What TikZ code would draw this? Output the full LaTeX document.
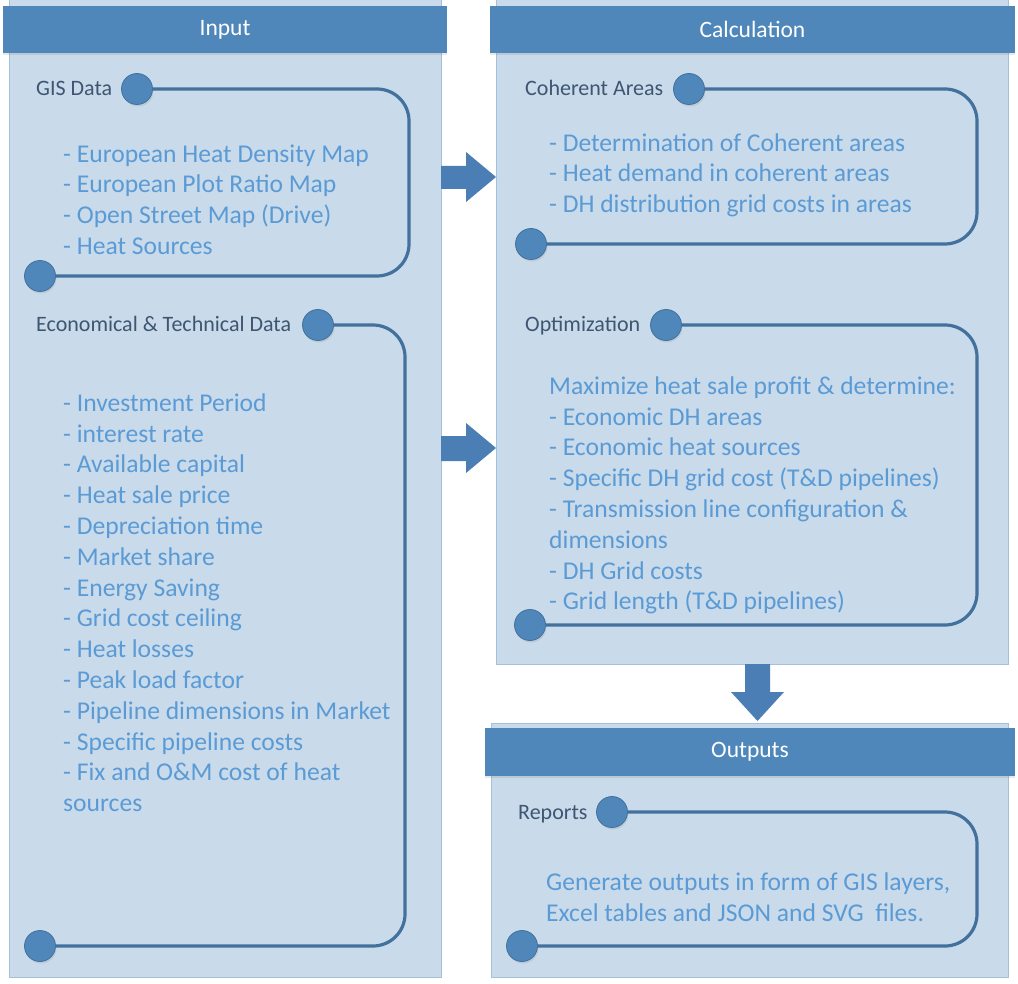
\documentclass[tikz,border=0pt]{standalone}
\usepackage{fontspec}
\setmainfont{Carlito}
\usetikzlibrary{shadows}
\definecolor{hdr}{HTML}{4F87BA}
\definecolor{pbg}{HTML}{C9DAEA}
\definecolor{pborder}{HTML}{A6C0DA}
\definecolor{lnc}{HTML}{41719C}
\definecolor{itm}{HTML}{5B9BD5}
\definecolor{lbl}{HTML}{3E5672}
\definecolor{arrc}{HTML}{4A7EB4}
\begin{document}
\begin{tikzpicture}[x=1pt,y=-1pt,
  panel/.style={fill=pbg, draw=pborder, line width=1, anchor=north west, inner sep=0, outer sep=0},
  hdrbox/.style={fill=hdr, anchor=north west, inner sep=0, outer sep=0,
     drop shadow={shadow xshift=0pt, shadow yshift=-2pt, opacity=0.18}},
  hdrtxt/.style={text=white, font=\fontsize{23.5}{28}\selectfont},
  dot/.style={circle, fill=hdr, draw=lnc, line width=0.8, minimum size=31, inner sep=0, outer sep=0,
     drop shadow={shadow xshift=1pt, shadow yshift=-2pt, opacity=0.18}},
  lbltxt/.style={anchor=base west, inner sep=0, text=lbl, font=\fontsize{22}{26}\selectfont},
  itemtxt/.style={anchor=base west, inner sep=0, text=itm, align=left, font=\fontsize{25.6}{30.8}\selectfont},
  conn/.style={draw=lnc, line width=3.2, rounded corners=32},
  blockarrow/.style={fill=arrc}
]
\useasboundingbox (0,0) rectangle (1018,984);

% panels
\node[panel, minimum width=432, minimum height=977] (pin) at (9,0) {};
\node[panel, minimum width=512, minimum height=664] (pcalc) at (496,0) {};
\node[panel, minimum width=517, minimum height=254] (pout) at (491,723) {};

% headers
\node[hdrbox, minimum width=444, minimum height=47] (hin) at (3,6) {};
\node[hdrtxt] (tin) at (hin.center) {Input};
\node[hdrbox, minimum width=525, minimum height=47] (hcalc) at (490,6) {};
\node[hdrtxt] (tcalc) at (hcalc.center) {Calculation};
\node[hdrbox, minimum width=530, minimum height=48] (hout) at (485,728) {};
\node[hdrtxt] (tout) at (hout.center) {Outputs};

% block arrows
\fill[blockarrow] (441,166) -- (466,166) -- (466,152) -- (496,177) -- (466,202) -- (466,189) -- (441,189) -- cycle;
\fill[blockarrow] (441,436) -- (466,436) -- (466,423) -- (496,448) -- (466,473) -- (466,461) -- (441,461) -- cycle;
\fill[blockarrow] (745,664) -- (770,664) -- (770,692) -- (784,692) -- (757.5,721) -- (731,692) -- (745,692) -- cycle;

% GIS Data
\node[lbltxt] (lgis) at (36,96) {GIS Data};
\node[dot] (g1) at (137,89) {};
\node[dot] (g2) at (40,276) {};
\draw[conn] (g1.east) -- (409,89) -- (409,276) -- (g2.east);
\node[itemtxt] (igis) at (63,254.6) {- European Heat Density Map\\- European Plot Ratio Map\\- Open Street Map (Drive)\\- Heat Sources};

% Economical & Technical Data
\node[lbltxt] (lecon) at (36,332) {Economical \& Technical Data};
\node[dot] (e1) at (318,325) {};
\node[dot] (e2) at (40,946) {};
\draw[conn] (e1.east) -- (405,325) -- (405,946) -- (e2.east);
\node[itemtxt] (iecon) at (63,811.6) {- Investment Period\\- interest rate\\- Available capital\\- Heat sale price\\- Depreciation time\\- Market share\\- Energy Saving\\- Grid cost ceiling\\- Heat losses\\- Peak load factor\\- Pipeline dimensions in Market\\- Specific pipeline costs\\- Fix and O\&M cost of heat\\sources};

% Coherent Areas
\node[lbltxt] (lcoh) at (525,96) {Coherent Areas};
\node[dot] (c1) at (689,89) {};
\node[dot] (c2) at (531,244) {};
\draw[conn] (c1.east) -- (977,89) -- (977,244) -- (c2.east);
\node[itemtxt] (icoh) at (549,212.8) {- Determination of Coherent areas\\- Heat demand in coherent areas\\- DH distribution grid costs in areas};

% Optimization
\node[lbltxt] (lopt) at (525,332) {Optimization};
\node[dot] (o1) at (666,325) {};
\node[dot] (o2) at (530,625) {};
\draw[conn] (o1.east) -- (977,325) -- (977,625) -- (o2.east);
\node[itemtxt] (iopt) at (549,609.8) {Maximize heat sale profit \& determine:\\- Economic DH areas\\- Economic heat sources\\- Specific DH grid cost (T\&D pipelines)\\- Transmission line configuration \&\\dimensions\\- DH Grid costs\\- Grid length (T\&D pipelines)};

% Reports
\node[lbltxt] (lrep) at (518,819) {Reports};
\node[dot] (r1) at (612,812) {};
\node[dot] (r2) at (522,946) {};
\draw[conn] (r1.east) -- (977,812) -- (977,946) -- (r2.east);
\node[itemtxt] (irep) at (546,921) {Generate outputs in form of GIS layers,\\Excel tables and JSON and SVG\ \ files.};
\end{tikzpicture}
\end{document}
